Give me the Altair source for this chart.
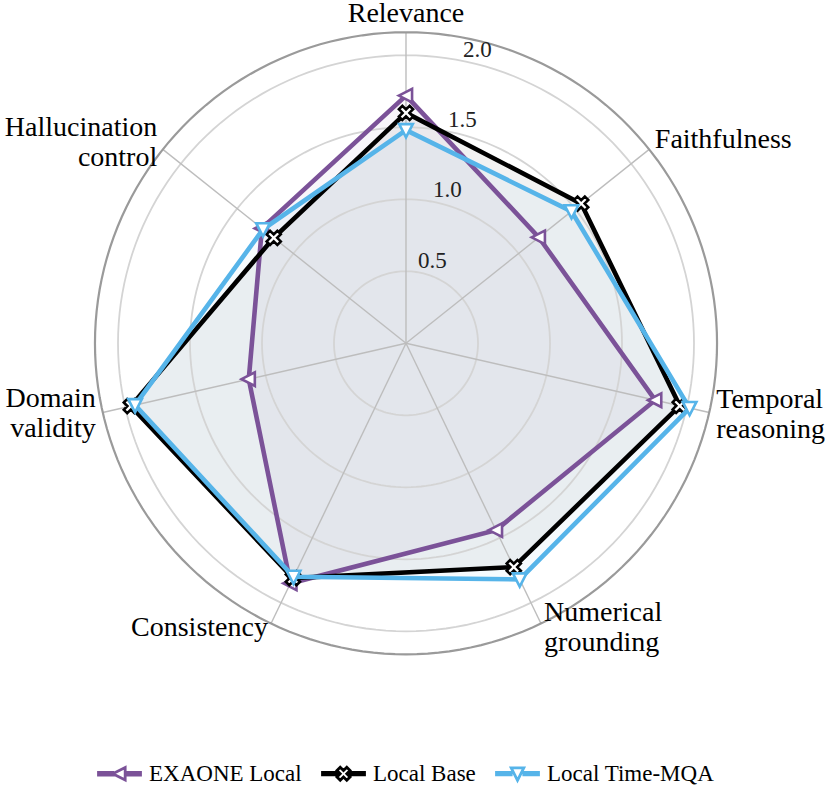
import math
import altair as alt
import pandas as pd

# ---- data -------------------------------------------------------------
axis_labels = ["Relevance", "Faithfulness", "Temporal\nreasoning", "Numerical\ngrounding",
               "Consistency", "Domain\nvalidity", "Hallucination\ncontrol"]
series_names = ["EXAONE Local", "Local Base", "Local Time-MQA"]
exaone_local = [1.72, 1.18, 1.775, 1.44, 1.85, 1.12, 1.28]
local_base = [1.60, 1.556, 1.95, 1.725, 1.81, 1.96, 1.175]
local_time_mqa = [1.48, 1.47, 2.02, 1.82, 1.80, 1.93, 1.27]
tick_values = [0.5, 1.0, 1.5, 2.0]
tick_labels = ["0.5", "1.0", "1.5", "2.0"]
r_max = 2.16

# ---- style / layout ---------------------------------------------------
W, H = 832, 787
CX, CY = 406.0, 343.3          # pixel position of the pole
S = 144.0                      # pixels per unit of radius
colors = ["#7b5298", "#000000", "#56b4e9"]
SERIF = "Liberation Serif"
N = len(axis_labels)
STEP = 2 * math.pi / N

xs = alt.Scale(domain=[-CX / S, (W - CX) / S], nice=False, zero=False)
ys = alt.Scale(domain=[-(H - CY) / S, CY / S], nice=False, zero=False)
X = lambda f: alt.X(f"{f}:Q", scale=xs, axis=None)
Y = lambda f: alt.Y(f"{f}:Q", scale=ys, axis=None)

# long-form series table, first vertex repeated to close each polygon
rows = []
for name, vals in zip(series_names, [exaone_local, local_base, local_time_mqa]):
    for k in range(N + 1):
        rows.append({"series": name, "k": k, "value": vals[k % N]})
series_df = pd.DataFrame(rows)

polar_xy = dict(ang=f"datum.k * {STEP}",
                px="datum.value * sin(datum.ang)",
                py="datum.value * cos(datum.ang)")

base_chart = alt.Chart(series_df).transform_calculate(**polar_xy)

# ---- grid -------------------------------------------------------------
ring_rows = []
for lvl in tick_values + [r_max]:
    for d in range(0, 361, 2):
        ring_rows.append({"level": lvl, "deg": d, "outer": lvl == r_max})
rings_df = pd.DataFrame(ring_rows)
rings = alt.Chart(rings_df).transform_calculate(
    px="datum.level * sin(datum.deg * PI / 180)",
    py="datum.level * cos(datum.deg * PI / 180)")
inner_rings = rings.transform_filter("!datum.outer").mark_line(
    color="#d4d4d4", strokeWidth=1.8).encode(
    x=X("px"), y=Y("py"), detail="level:N", order="deg:Q")
outer_ring = rings.transform_filter("datum.outer").mark_line(
    color="#9a9a9a", strokeWidth=2.2).encode(
    x=X("px"), y=Y("py"), order="deg:Q")

spokes_df = pd.DataFrame({"k": list(range(N))})
spokes = alt.Chart(spokes_df).transform_calculate(
    x0="0", y0="0",
    x1=f"{r_max} * sin(datum.k * {STEP})",
    y1=f"{r_max} * cos(datum.k * {STEP})").mark_rule(
    color="#bdbdbd", strokeWidth=1.4).encode(
    x=X("x0"), y=Y("y0"), x2="x1:Q", y2="y1:Q")

# radial tick labels along a ray 12 degrees right of the top spoke
ticks_df = pd.DataFrame({"v": tick_values, "label": tick_labels})
tick_text = alt.Chart(ticks_df).transform_calculate(
    px="datum.v * sin(12 * PI / 180)",
    py="datum.v * cos(12 * PI / 180)").mark_text(
    align="left", baseline="bottom", dx=-3, font=SERIF, fontSize=23,
    color="#222222").encode(
    x=X("px"), y=Y("py"), text="label:N")

# ---- axis labels ------------------------------------------------------
labels_df = pd.DataFrame({"k": list(range(N)), "label": axis_labels})
R_LAB = 2.21


def axis_label(idx, align, baseline, dy=0):
    return alt.Chart(labels_df).transform_filter(f"datum.k == {idx}").transform_calculate(
        px=f"{R_LAB} * sin(datum.k * {STEP})",
        py=f"{R_LAB} * cos(datum.k * {STEP})").mark_text(
        align=align, baseline=baseline, dy=dy, font=SERIF, fontSize=28,
        lineBreak="\n", lineHeight=30, color="#000000").encode(
        x=X("px"), y=Y("py"), text="label:N")


label_layers = [
    axis_label(0, "center", "bottom", 3),
    axis_label(1, "left", "middle", -5),
    axis_label(2, "left", "middle", -14),
    axis_label(3, "left", "middle", -17),
    axis_label(4, "right", "middle", -2),
    axis_label(5, "right", "middle", -15),
    axis_label(6, "right", "middle", -17),
]

# ---- series -----------------------------------------------------------
# marker outlines, unit coordinates in [-1, 1]
tri_left = "M-0.95,0 L0.8,-0.9 L0.8,0.9 Z"
tri_down = "M0,0.95 L-0.9,-0.8 L0.9,-0.8 Z"


def x_path(scale, w, cx=0.0):
    pts = [(w, scale), (-w, scale), (-w, w), (-scale, w), (-scale, -w), (-w, -w),
           (-w, -scale), (w, -scale), (w, -w), (scale, -w), (scale, w), (w, w)]
    c = math.cos(math.pi / 4)
    out = []
    for (a, b) in pts:
        out.append((cx + (a - b) * c, (a + b) * c))
    return "M" + " L".join(f"{a:.3f},{b:.3f}" for a, b in out) + " Z"


x_mark = x_path(1.0, 0.32)
marker_paths = [tri_left, x_mark, tri_down]

fills, lines, markers = [], [], []
for name, col, shp in zip(series_names, colors, marker_paths):
    sub = base_chart.transform_filter(alt.datum.series == name)
    fills.append(sub.mark_line(fill=col, fillOpacity=0.05, strokeOpacity=0).encode(
        x=X("px"), y=Y("py"), order="k:Q"))
    lines.append(sub.mark_line(color=col, strokeWidth=4.6, strokeJoin="miter").encode(
        x=X("px"), y=Y("py"), order="k:Q"))
    markers.append(sub.transform_filter(f"datum.k < {N}").mark_point(
        shape=shp, filled=True, fill="white", stroke=col, strokeWidth=2.6,
        size=230, opacity=1).encode(x=X("px"), y=Y("py")))

# ---- legend: line segment with the series marker ----------------------
def seg(a, b, h=0.06):
    return f"M{a},{-h} L{b},{-h} L{b},{h} L{a},{h} Z"


legend_paths = [
    seg(-1, -0.32) + " " + seg(0.27, 1) + " M-0.32,0 L0.27,-0.3 L0.27,0.3 Z",
    seg(-1, -0.3) + " " + seg(0.3, 1) + " " + x_path(0.33, 0.11),
    seg(-1, -0.3) + " " + seg(0.3, 1) + " M0,0.32 L-0.3,-0.27 L0.3,-0.27 Z",
]
legend_layer = base_chart.transform_filter("datum.k < 0").mark_point(
    filled=True, fill="white", strokeWidth=2.8, opacity=1).encode(
    x=X("px"), y=Y("py"),
    shape=alt.Shape("series:N", scale=alt.Scale(domain=series_names, range=legend_paths),
                    legend=alt.Legend(title=None)),
    stroke=alt.Stroke("series:N", scale=alt.Scale(domain=series_names, range=colors),
                      legend=alt.Legend(title=None)),
)

chart = alt.layer(
    *fills, inner_rings, spokes, outer_ring, tick_text,
    *[layer for trio in zip(lines, markers) for layer in trio],
    *label_layers, legend_layer,
).properties(
    width=W, height=H, padding=0, autosize=alt.AutoSizeParams(type="none"),
).configure_view(stroke=None).configure_legend(
    orient="none", legendX=97, legendY=751, direction="horizontal",
    symbolSize=1764, symbolStrokeWidth=2.8, symbolFillColor="white",
    labelFont=SERIF, labelFontSize=23, labelColor="#000000", labelLimit=400,
    labelOffset=7, columnPadding=14, padding=0, symbolOpacity=1,
)

chart.save("out.html", embed_options={"renderer": "svg", "actions": False})
